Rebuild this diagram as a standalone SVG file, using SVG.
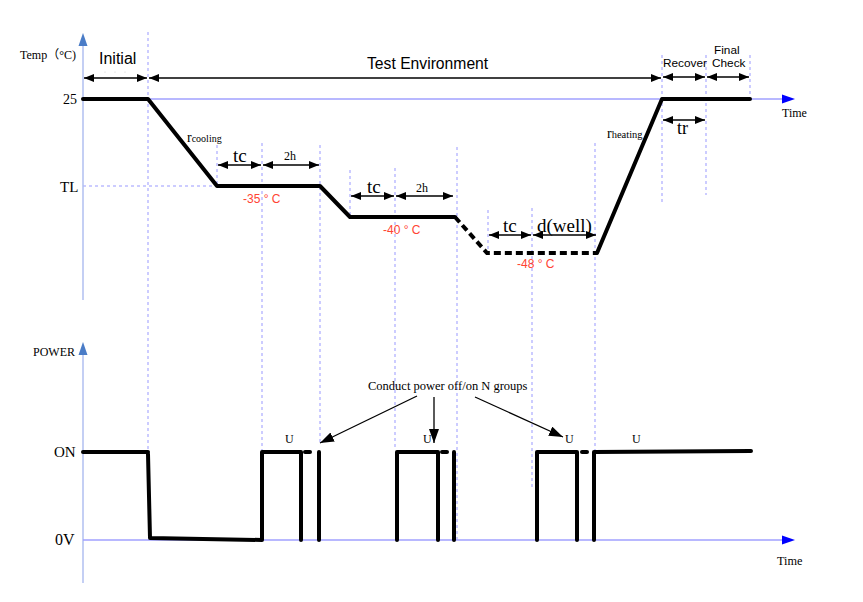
<svg xmlns="http://www.w3.org/2000/svg" width="863" height="602" viewBox="0 0 863 602">
<style>
.serif{font-family:"Liberation Serif","Times New Roman","Noto Sans CJK SC",serif;fill:#000}
.sans{font-family:"Liberation Sans",Arial,sans-serif;fill:#000}
.red{font-family:"Liberation Sans",Arial,sans-serif;fill:#ff4433;font-size:12px}
.axis{stroke:#a0a0ff;stroke-width:1.5;fill:none}
.yaxis{stroke:#b0bff0;stroke-width:1.5;fill:none}
.guide{stroke:#9999ff;stroke-width:1;stroke-dasharray:3 3;fill:none}
.thick{stroke:#000;stroke-width:4;fill:none;stroke-linejoin:round;stroke-linecap:round}
.dashthick{stroke:#000;stroke-width:4;fill:none;stroke-dasharray:7 4}
.dim{stroke:#000;stroke-width:1.4;fill:none;marker-start:url(#ah);marker-end:url(#ah)}
.call{stroke:#000;stroke-width:1.3;fill:none;marker-end:url(#bh)}
</style>
<defs>
<marker id="ah" markerUnits="userSpaceOnUse" markerWidth="11" markerHeight="9" refX="10" refY="4" orient="auto-start-reverse">
<path d="M0,0 L10,4 L0,8 Z" fill="#000"/>
</marker>
<marker id="bh" markerUnits="userSpaceOnUse" markerWidth="15" markerHeight="11" refX="14" refY="5" orient="auto">
<path d="M0,0 L14,5 L0,10 Z" fill="#000"/>
</marker>
</defs>

<g id="guides">
<line class="guide" x1="148" y1="32" x2="148" y2="452"/>
<line class="guide" x1="217" y1="145" x2="217" y2="186"/>
<line class="guide" x1="262" y1="143" x2="262" y2="452"/>
<line class="guide" x1="320" y1="145" x2="320" y2="445"/>
<line class="guide" x1="350" y1="170" x2="350" y2="217"/>
<line class="guide" x1="395" y1="168" x2="395" y2="448"/>
<line class="guide" x1="457" y1="147" x2="457" y2="540"/>
<line class="guide" x1="488" y1="210" x2="488" y2="252"/>
<line class="guide" x1="532" y1="208" x2="532" y2="490"/>
<line class="guide" x1="595" y1="143" x2="595" y2="450"/>
<line class="guide" x1="662" y1="55" x2="662" y2="202"/>
<line class="guide" x1="706" y1="55" x2="706" y2="195"/>
<line class="guide" x1="750" y1="55" x2="750" y2="102"/>
<line class="guide" x1="83" y1="186" x2="217" y2="186"/>
</g>

<g id="temp-axes">
<line class="yaxis" x1="83" y1="44" x2="83" y2="300"/>
<path d="M83,33 L87.5,46 L78.5,46 Z" fill="#4a7cc7"/>
<line class="axis" x1="83" y1="99" x2="783" y2="99"/>
<path d="M795,99 L782,94.5 L782,103.5 Z" fill="#0000ff"/>
<text class="serif" x="20" y="59" font-size="12">Temp（°C)</text>
<text class="serif" x="63" y="104" font-size="14">25</text>
<text class="serif" x="60" y="192" font-size="15">TL</text>
<text class="serif" x="782" y="117" font-size="12">Time</text>
</g>

<g id="phase-labels">
<text class="sans" x="99" y="64" font-size="16">Initial</text>
<circle cx="105" cy="72" r="0.6" fill="#ccc"/>
<circle cx="115" cy="72" r="0.6" fill="#ccc"/>
<circle cx="125" cy="72" r="0.6" fill="#ccc"/>
<text class="sans" x="367" y="69" font-size="15.7">Test Environment</text>
<text class="sans" x="663" y="67" font-size="11.8">Recover</text>
<text class="sans" x="714" y="54" font-size="11.8">Final</text>
<text class="sans" x="712" y="67" font-size="11.8">Check</text>
</g>

<g id="temp-trace">
<polyline class="thick" points="83,99 148,99 217,186 320,186 350,217 455,217"/>
<polyline class="dashthick" points="455,217 487,253 597,253"/>
<polyline class="thick" points="597,253 662,99 750,99"/>
</g>

<g id="dimensions">
<line class="dim" x1="84" y1="78" x2="147" y2="78"/>
<line class="dim" x1="149" y1="78" x2="661" y2="78"/>
<line class="dim" x1="663" y1="77" x2="705" y2="77"/>
<line class="dim" x1="707" y1="77" x2="749" y2="77"/>
<line class="dim" x1="218" y1="165" x2="261" y2="165"/>
<line class="dim" x1="263" y1="165" x2="319" y2="165"/>
<line class="dim" x1="351" y1="196" x2="394" y2="196"/>
<line class="dim" x1="396" y1="196" x2="453" y2="196"/>
<line class="dim" x1="489" y1="235" x2="531" y2="235"/>
<line class="dim" x1="533" y1="235" x2="596" y2="235"/>
<line class="dim" x1="663" y1="120" x2="705" y2="120"/>
</g>

<g id="temp-labels">
<text class="serif" x="187" y="142" font-size="14">r<tspan font-size="10">cooling</tspan></text>
<text class="serif" x="607" y="138" font-size="14">r<tspan font-size="10.5">heating</tspan></text>
<text class="serif" x="233" y="162" font-size="19">tc</text>
<text class="serif" x="284" y="160" font-size="12">2h</text>
<text class="serif" x="367" y="193" font-size="19">tc</text>
<text class="serif" x="416" y="192" font-size="12">2h</text>
<text class="serif" x="503" y="232" font-size="19">tc</text>
<text class="serif" x="537" y="232" font-size="19">d(well)</text>
<text class="serif" x="677" y="134" font-size="18">tr</text>
<text class="red" x="243" y="203">-35 ° C</text>
<text class="red" x="383" y="234">-40 ° C</text>
<text class="red" x="517" y="268">-48 ° C</text>
</g>

<g id="power-axes">
<line class="yaxis" x1="83" y1="352" x2="83" y2="583"/>
<path d="M83,342 L87.5,355 L78.5,355 Z" fill="#4a7cc7"/>
<line class="axis" x1="83" y1="540" x2="783" y2="540"/>
<path d="M795,540 L782,535.5 L782,544.5 Z" fill="#0000ff"/>
<text class="serif" x="33" y="356" font-size="12">POWER</text>
<text class="serif" x="54" y="457" font-size="15">ON</text>
<text class="serif" x="55" y="545" font-size="16">0V</text>
<text class="serif" x="777" y="565" font-size="12.3">Time</text>
</g>

<g id="power-trace">
<polyline class="thick" points="83,452 148,452"/>
<polyline class="thick" points="148,454 150,538 262,540 262,452 301,452 301,540"/>
<line class="thick" x1="305" y1="452" x2="310" y2="452"/>
<line class="thick" x1="319" y1="452" x2="319" y2="540"/>
<polyline class="thick" points="397,540 397,452 438,452 438,540"/>
<line class="thick" x1="442" y1="452" x2="447" y2="452"/>
<line class="thick" x1="454" y1="452" x2="454" y2="540"/>
<polyline class="thick" points="537,540 537,452 577,452 577,540"/>
<line class="thick" x1="582" y1="452" x2="587" y2="452"/>
<polyline class="thick" points="594,540 594,452 751,451"/>
</g>

<g id="power-labels">
<text class="serif" x="285" y="443" font-size="12">U</text>
<text class="serif" x="423" y="443" font-size="12">U</text>
<text class="serif" x="565" y="443" font-size="12">U</text>
<text class="serif" x="632" y="443" font-size="12">U</text>
<text class="serif" x="368" y="390" font-size="12.5">Conduct power off/on N groups</text>
</g>

<g id="callouts">
<line class="call" x1="417" y1="396" x2="320" y2="443"/>
<line class="call" x1="434" y1="397" x2="434" y2="443"/>
<line class="call" x1="475" y1="397" x2="563" y2="437"/>
</g>
</svg>
